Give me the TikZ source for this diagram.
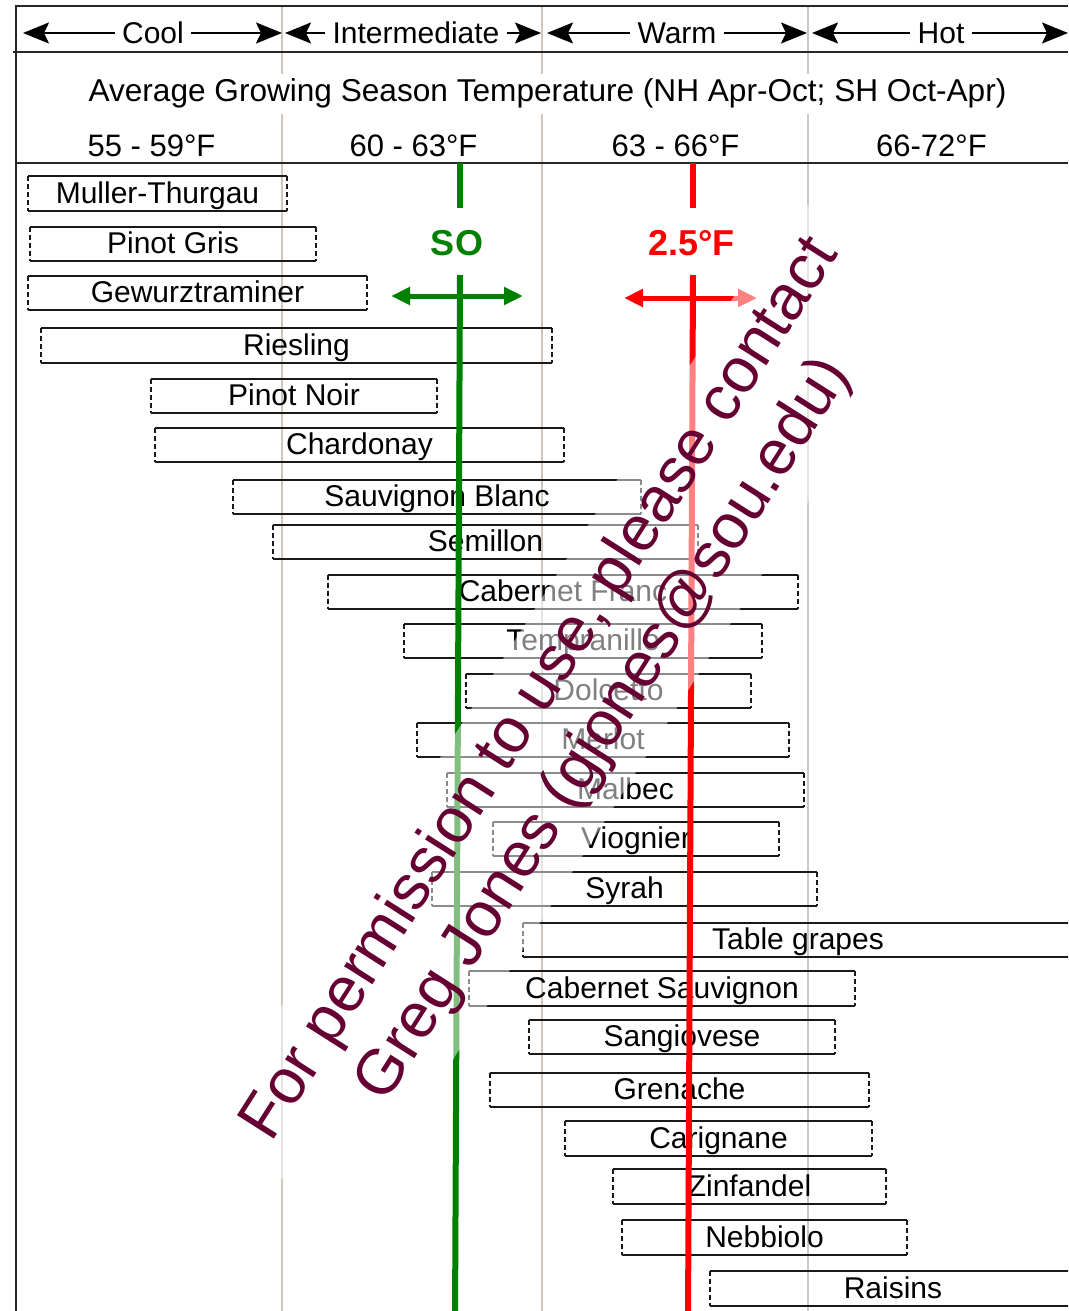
\documentclass[tikz,border=0pt]{standalone}
\usepackage{fontspec}
\setmainfont{Liberation Sans}
\usetikzlibrary{arrows.meta}
\definecolor{sogreen}{RGB}{0,128,0}
\definecolor{warmred}{RGB}{255,0,0}
\definecolor{divgray}{RGB}{206,198,191}
\definecolor{wmark}{RGB}{102,0,51}
\tikzset{
  frame/.style={line width=2pt, black!85},
  divider/.style={line width=2pt, divgray},
  catarrow/.style={line width=2pt, -{Stealth[length=26pt,width=21pt,inset=5pt]}},
  cat/.style={font=\fontsize{30}{36}\selectfont, text height=22pt, text depth=0pt, inner xsep=7pt, inner ysep=0pt},
  subtitle/.style={font=\fontsize{31.6}{38}\selectfont, fill=white, text height=23pt, text depth=7pt, minimum height=40pt, inner sep=0pt, inner xsep=4pt},
  templabel/.style={font=\fontsize{31}{37}\selectfont, anchor=base},
  boxedge/.style={line width=2pt, black!90},
  grape/.style={minimum width=#1, minimum height=34pt, inner sep=0pt,
    text height=22pt, text depth=3pt, font=\fontsize{30}{36}\selectfont,
    append after command={
      (\tikzlastnode.north west) edge[boxedge] (\tikzlastnode.north east)
      (\tikzlastnode.south west) edge[boxedge] (\tikzlastnode.south east)
      (\tikzlastnode.north west) edge[boxedge, dash pattern=on 5pt off 3pt] (\tikzlastnode.south west)
      (\tikzlastnode.north east) edge[boxedge, dash pattern=on 5pt off 3pt] (\tikzlastnode.south east)}},
  shiftlabel/.style={font=\bfseries\fontsize{36}{43}\selectfont, anchor=base},
  soline/.style={line width=6pt, sogreen},
  warmline/.style={line width=6pt, warmred},
  spread/.style={line width=5pt, {Triangle[length=19pt,width=17pt]}-{Triangle[length=19pt,width=17pt]}},
  permit/.style={rotate=57.5, fill=white, fill opacity=0.5, text opacity=1, text=wmark,
    minimum width=1104pt, minimum height=173pt, align=center,
    font=\fontsize{63.5}{75}\selectfont}
}
\begin{document}
\begin{tikzpicture}[x=1pt, y=-1pt]
\clip (0,0) rectangle (1068,1311);
\fill[white] (0,0) rectangle (1068,1311);
% column dividers
\draw[divider] (282,6) -- (282,1311);
\draw[divider] (542,6) -- (542,1311);
\draw[divider] (808,6) -- (808,1311);
% frame
\draw[frame] (16,1311) -- (16,6) -- (1068,6);
\draw[frame] (13,52) -- (1068,52);
\draw[frame] (16,163) -- (1068,163);
% header
\node[cat] (cool) at (153,33) {Cool};
\node[cat] (inter) at (416,33) {Intermediate};
\node[cat] (warm) at (677,33) {Warm};
\node[cat] (hot) at (941,33) {Hot};
\coordinate (cool-w) at (23,33);
\coordinate (cool-e) at (282,33);
\coordinate (inter-w) at (285,33);
\coordinate (inter-e) at (541,33);
\coordinate (warm-w) at (547,33);
\coordinate (warm-e) at (807,33);
\coordinate (hot-w) at (812,33);
\coordinate (hot-e) at (1068,33);
\draw[catarrow] (cool.west) -- (cool-w);
\draw[catarrow] (cool.east) -- (cool-e);
\draw[catarrow] (inter.west) -- (inter-w);
\draw[catarrow] (inter.east) -- (inter-e);
\draw[catarrow] (warm.west) -- (warm-w);
\draw[catarrow] (warm.east) -- (warm-e);
\draw[catarrow] (hot.west) -- (hot-w);
\draw[catarrow] (hot.east) -- (hot-e);
\node[subtitle] (season) at (547.5,94) {Average Growing Season Temperature (NH Apr-Oct; SH Oct-Apr)};
\node[templabel] (r55) at (151.5,157) {55 - 59°F};
\node[templabel] (r60) at (413.5,157) {60 - 63°F};
\node[templabel] (r63) at (675.5,157) {63 - 66°F};
\node[templabel] (r66) at (931.5,157) {66-72°F};
% varieties
\node[grape=259pt] (muller) at (157.5,193.5) {Muller-Thurgau};
\node[grape=286pt] (pgris) at (173,244) {Pinot Gris};
\node[grape=339pt] (gewurz) at (197.5,293) {Gewurztraminer};
\node[grape=511pt] (riesling) at (296.5,345.5) {Riesling};
\node[grape=286pt] (pnoir) at (294,396) {Pinot Noir};
\node[grape=409pt] (chard) at (359.5,445) {Chardonay};
\node[grape=408pt] (sblanc) at (437,497) {Sauvignon Blanc};
\node[grape=425pt] (semillon) at (485.5,542) {Semillon};
\node[grape=470pt] (cfranc) at (563,592) {Cabernet Franc};
\node[grape=358pt] (tempr) at (583,641) {Tempranillo};
\node[grape=285pt] (dolcetto) at (608.5,691) {Dolcetto};
\node[grape=372pt] (merlot) at (603,740) {Merlot};
\node[grape=357pt] (malbec) at (625.5,790) {Malbec};
\node[grape=286pt] (viognier) at (636,839) {Viognier};
\node[grape=385pt] (syrah) at (624.5,889) {Syrah};
\node[grape=550pt] (table) at (798,940) {Table grapes};
\node[grape=386pt] (csauv) at (662,988.5) {Cabernet Sauvignon};
\node[grape=306pt] (sangio) at (682,1037) {Sangiovese};
\node[grape=379pt] (grenache) at (679.5,1090) {Grenache};
\node[grape=307pt] (carig) at (718.5,1138.5) {Carignane};
\node[grape=273pt] (zin) at (749.5,1186.5) {Zinfandel};
\node[grape=285pt] (nebb) at (764.5,1237.5) {Nebbiolo};
\node[grape=366pt] (raisins) at (893,1288.5) {Raisins};
% southern Oregon and the +2.5 shift
\node[shiftlabel, text=sogreen] (so) at (457,255) {SO};
\node[shiftlabel, text=warmred] (plus) at (691.5,255) {2.5°F};
\coordinate (so-top) at (460,163);
\coordinate (so-mid) at (460,208);
\coordinate (so-low) at (460,275);
\coordinate (so-end) at (455,1320);
\coordinate (so-w) at (391,296);
\coordinate (so-e) at (523,296);
\draw[soline] (so-top) -- (so-mid);
\draw[soline] (so-low) -- (so-end);
\draw[soline, spread] (so-w) -- (so-e);
\coordinate (plus-top) at (693,163);
\coordinate (plus-mid) at (693,208);
\coordinate (plus-low) at (693,275);
\coordinate (plus-end) at (688,1320);
\coordinate (plus-w) at (624,298);
\coordinate (plus-e) at (757,298);
\draw[warmline] (plus-top) -- (plus-mid);
\draw[warmline] (plus-low) -- (plus-end);
\draw[warmline, spread] (plus-w) -- (plus-e);
% notice
\node[permit] (notice) at (573,710) {For permission to use, please contact\\Greg Jones (gjones@sou.edu)};
\end{tikzpicture}
\end{document}
